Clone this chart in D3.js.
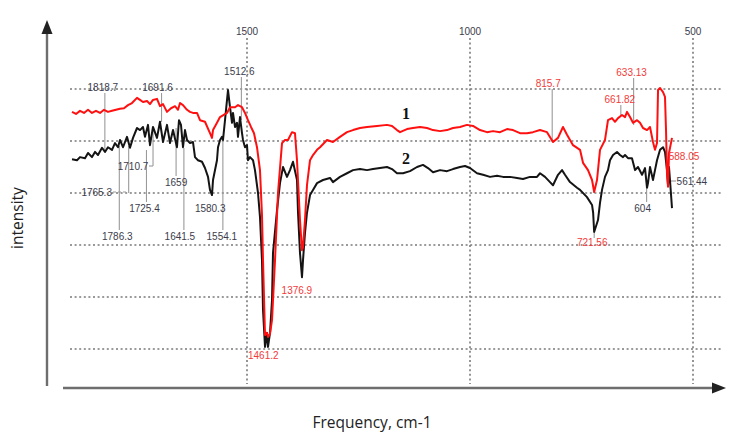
<!DOCTYPE html>
<html><head><meta charset="utf-8">
<script src="https://cdn.jsdelivr.net/npm/d3@7/dist/d3.min.js"></script>
<style>html,body{margin:0;padding:0;background:#fff;}svg{display:block;}</style>
</head><body><svg id="c" width="730" height="432"></svg>
<script>
// ---- data (wavenumber cm-1, intensity a.u.) ----
const series1 = [[1892.4,55.6],[1883.4,55.2],[1874.4,55.8],[1865.5,55.4],[1856.5,56.0],[1847.5,55.4],[1838.6,55.8],[1829.6,55.4],[1820.6,56.0],[1811.7,55.6],[1802.7,55.8],[1793.7,56.0],[1784.8,56.2],[1775.8,56.3],[1766.8,56.9],[1757.9,57.3],[1746.6,58.3],[1739.9,57.9],[1733.2,57.5],[1724.2,57.7],[1717.5,57.1],[1710.8,57.9],[1701.8,58.1],[1695.1,56.7],[1688.3,57.1],[1679.4,55.6],[1670.4,56.3],[1661.4,56.7],[1654.7,56.0],[1650.2,57.3],[1643.5,56.9],[1634.5,56.0],[1627.8,55.6],[1621.1,55.4],[1612.1,55.4],[1605.4,54.0],[1594.2,53.7],[1583.0,51.5],[1578.5,50.6],[1576.2,52.1],[1567.3,53.5],[1560.5,54.6],[1544.8,55.4],[1538.1,56.5],[1526.9,56.5],[1520.2,56.9],[1511.2,56.5],[1504.5,55.4],[1497.8,54.0],[1491.0,52.7],[1484.3,51.5],[1477.6,48.8],[1470.9,44.4],[1466.4,35.8],[1464.1,27.1],[1459.6,12.7],[1455.2,13.1],[1452.9,12.3],[1448.4,12.9],[1443.9,15.6],[1437.2,27.1],[1430.5,40.0],[1421.5,49.6],[1414.8,50.2],[1408.1,50.2],[1399.1,51.7],[1392.4,51.5],[1387.9,46.3],[1381.2,34.8],[1376.7,29.0],[1374.4,29.6],[1370.0,34.8],[1365.5,41.5],[1358.7,46.3],[1352.0,47.3],[1343.0,48.3],[1336.3,48.8],[1320.6,50.2],[1307.2,49.8],[1291.5,50.8],[1275.8,51.7],[1262.3,52.1],[1246.6,52.5],[1230.9,52.7],[1208.5,52.9],[1186.1,53.1],[1174.9,52.9],[1163.7,52.1],[1156.9,51.7],[1141.2,52.3],[1127.8,52.5],[1112.1,52.7],[1096.4,52.5],[1082.9,52.1],[1067.1,51.9],[1051.6,52.1],[1038.1,52.5],[1022.4,52.7],[1006.7,53.1],[993.3,52.9],[977.6,52.1],[961.9,51.7],[948.4,51.9],[932.7,51.7],[917.0,52.3],[903.6,52.1],[887.9,51.5],[872.2,51.5],[858.7,51.7],[843.0,52.1],[827.3,51.7],[813.9,49.8],[802.7,50.6],[791.5,52.7],[782.5,51.2],[769.0,49.2],[753.3,48.3],[746.6,45.8],[735.4,44.4],[726.4,42.5],[721.6,40.2],[715.2,42.5],[708.5,48.3],[697.3,50.2],[690.6,54.0],[681.6,54.4],[674.9,53.7],[668.1,54.4],[659.2,55.0],[652.4,54.6],[647.9,55.6],[641.2,54.6],[634.5,53.5],[625.5,54.0],[618.8,53.5],[612.1,52.5],[603.1,52.1],[596.4,52.7],[589.7,49.8],[585.2,48.3],[580.7,49.6],[578.4,59.8],[573.9,60.2],[567.2,59.4],[562.8,58.5],[560.5,52.1],[558.3,43.8],[556.0,41.2],[553.8,47.7],[547.1,50.6]];

const series2 = [[1892.4,46.5],[1881.2,46.3],[1874.4,46.9],[1863.2,46.7],[1856.5,47.7],[1847.5,46.9],[1840.8,47.9],[1834.1,47.3],[1825.1,48.7],[1818.4,47.9],[1811.7,48.8],[1802.7,48.3],[1796.0,49.6],[1789.2,48.8],[1784.8,50.2],[1778.0,48.8],[1769.1,50.8],[1762.3,48.7],[1755.6,50.6],[1746.6,52.5],[1739.9,52.1],[1733.2,52.7],[1728.7,50.8],[1722.0,53.1],[1717.5,49.2],[1710.8,52.7],[1701.8,50.6],[1695.1,53.7],[1688.3,49.8],[1679.4,53.1],[1672.6,49.6],[1665.9,52.1],[1657.0,48.8],[1652.5,54.0],[1648.0,53.1],[1643.5,48.8],[1639.0,52.1],[1634.5,50.2],[1627.8,49.6],[1621.1,49.8],[1616.6,46.9],[1609.9,46.3],[1600.9,46.0],[1594.2,44.8],[1587.4,43.1],[1583.0,40.6],[1578.5,39.6],[1576.2,42.5],[1567.3,46.3],[1565.0,48.8],[1560.5,50.2],[1556.1,50.8],[1553.8,50.2],[1549.3,54.0],[1544.8,57.9],[1542.6,59.8],[1538.1,56.5],[1533.6,53.5],[1531.4,55.4],[1526.9,52.7],[1522.4,53.5],[1520.2,50.8],[1515.7,54.6],[1511.2,51.5],[1509.0,50.2],[1504.5,48.8],[1500.0,49.2],[1497.8,46.3],[1493.3,46.9],[1486.5,46.3],[1482.1,44.4],[1475.3,40.0],[1470.9,35.4],[1466.4,27.1],[1464.1,17.5],[1459.6,10.4],[1455.2,13.1],[1452.9,10.4],[1448.4,13.1],[1443.9,19.4],[1441.7,28.5],[1432.7,36.7],[1426.0,41.9],[1419.3,45.0],[1410.3,43.1],[1403.6,44.4],[1396.9,46.0],[1387.9,42.5],[1385.6,36.2],[1381.2,28.5],[1376.7,23.8],[1374.4,27.1],[1370.0,32.3],[1365.5,36.2],[1358.7,39.6],[1352.0,40.6],[1343.0,41.9],[1329.6,42.5],[1313.9,42.9],[1307.2,42.1],[1291.5,43.1],[1275.8,43.8],[1262.3,44.4],[1246.6,44.6],[1230.9,44.4],[1217.5,44.6],[1201.8,44.8],[1186.1,45.0],[1174.9,44.6],[1163.7,43.8],[1150.2,43.8],[1134.5,44.2],[1118.8,45.0],[1105.4,45.4],[1094.2,44.8],[1082.9,44.0],[1067.1,44.4],[1051.6,44.2],[1038.1,44.6],[1022.4,45.0],[1011.2,45.2],[1000.0,44.8],[984.3,43.8],[970.8,43.5],[955.1,43.1],[939.5,43.3],[926.0,43.1],[910.3,43.1],[894.6,42.9],[881.2,42.7],[865.5,43.1],[849.8,43.1],[843.0,43.8],[831.8,43.1],[820.6,42.1],[813.9,41.5],[802.7,43.5],[793.7,44.4],[787.0,43.5],[775.8,42.1],[760.1,41.0],[753.3,40.6],[737.7,39.2],[726.4,37.7],[723.9,36.2],[721.6,32.5],[713.0,34.8],[708.5,38.1],[704.0,40.6],[697.3,43.1],[690.6,44.4],[686.1,46.3],[679.3,47.3],[670.4,47.9],[663.7,47.3],[656.9,46.9],[652.4,47.3],[645.7,46.7],[636.8,46.7],[630.0,44.4],[623.3,45.0],[614.3,43.5],[607.6,44.8],[603.1,41.0],[600.9,41.9],[596.4,45.0],[589.7,42.5],[585.2,44.4],[580.7,46.3],[573.9,48.3],[567.2,48.8],[562.8,47.9],[558.3,44.4],[556.0,41.5],[553.8,45.0],[551.6,42.5],[547.1,37.1]];

const xTickValues = [1500, 1000, 500];
const yGridValues = [10, 20, 30, 40, 50, 60];
const seriesNames = ["1", "2"];

// peak annotations: wavenumber, label, which series (1 red, 2 black)
const annFreq   = [1818.7, 1786.3, 1765.3, 1725.4, 1710.7, 1691.6, 1659, 1641.5, 1580.3, 1554.1, 1512.6, 1461.2, 1376.9, 815.7, 721.56, 661.82, 633.13, 604, 588.05, 561.44];
const annText   = ["1818.7","1786.3","1765.3","1725.4","1710.7","1691.6","1659","1641.5","1580.3","1554.1","1512.6","1461.2","1376.9","815.7","721.56","661.82","633.13","604","588.05","561.44"];
const annSeries = [2,2,2,2,2,2,2,2,2,2,2,1,1,1,1,1,1,2,1,2];

// ---- layout (pixels) for annotation labels and leader lines ----
// [label dx from peak, label baseline y, leader y1, leader y2, anchor, pointer]
const annLayout = [
  [-2, 91, 93, 150, "middle", null],
  [-2, 240, 146, 230, "middle", null],
  [-32, 196, 146, 193, "middle", [113, 128]],
  [-2, 212, 150, 202, "middle", null],
  [-20, 170, 128, 166, "middle", [149, 153]],
  [-4, 91, 93, 122, "middle", null],
  [0, 186, 128, 176, "middle", null],
  [-4, 240, 148, 230, "middle", null],
  [-1, 212, null, null, "middle", null],
  [-1, 240, 140, 230, "middle", null],
  [-2, 75, 77, 120, "middle", null],
  [-1, 359, null, null, "middle", null],
  [-5, 294, null, null, "middle", null],
  [-4, 87, 89, 142, "middle", null],
  [-2, 246, 233, 238, "middle", null],
  [-1, 103, 105, 116, "middle", null],
  [-2, 76, 78, 125, "middle", null],
  [-4, 212, 189, 202, "middle", null],
  [15, 160, null, null, "start", null],
  [11, 185, null, null, "start", [667, 676]]
];

const svg = d3.select("#c");
const x = d3.scaleLinear().domain([1500, 500]).range([247, 693]);
const y = d3.scaleLinear().domain([0, 60]).range([401, 89]);

// grid
const gridColor = "#7a7a7a";
svg.append("g").selectAll("line").data(yGridValues).join("line")
  .attr("x1", 70).attr("x2", 722)
  .attr("y1", d => y(d)).attr("y2", d => y(d))
  .attr("stroke", gridColor).attr("stroke-width", 1.6).attr("stroke-dasharray", "2,2.6");
svg.append("g").selectAll("line").data(xTickValues).join("line")
  .attr("x1", d => x(d)).attr("x2", d => x(d))
  .attr("y1", 38).attr("y2", 384)
  .attr("stroke", gridColor).attr("stroke-width", 1.6).attr("stroke-dasharray", "2,2.6");
svg.append("g").selectAll("text").data(xTickValues).join("text")
  .attr("x", d => x(d)).attr("y", 35).attr("text-anchor", "middle")
  .attr("font-family", "Liberation Sans, Arial, sans-serif").attr("font-size", 10)
  .attr("fill", "#3c3c4c").text(d => d);

// axes with arrows
const axisColor = "#6e6e6e";
svg.append("line").attr("x1", 47).attr("x2", 47).attr("y1", 386).attr("y2", 32)
  .attr("stroke", axisColor).attr("stroke-width", 2.4);
svg.append("path").attr("d", "M47,20 L41.5,34 L52.5,34 Z").attr("fill", "#222");
svg.append("line").attr("x1", 63).attr("x2", 714).attr("y1", 388).attr("y2", 388)
  .attr("stroke", axisColor).attr("stroke-width", 2.4);
svg.append("path").attr("d", "M726,388 L712,382.5 L712,393.5 Z").attr("fill", "#222");

svg.append("text").attr("x", 372).attr("y", 428).attr("text-anchor", "middle")
  .attr("font-family", "Open Sans, Liberation Sans, sans-serif").attr("font-size", 15.5)
  .attr("fill", "#222").text("Frequency, cm-1");
svg.append("text").attr("transform", "translate(23,218) rotate(-90)").attr("text-anchor", "middle")
  .attr("font-family", "Open Sans, Liberation Sans, sans-serif").attr("font-size", 15.5)
  .attr("fill", "#222").text("intensity");

// leader lines (under curves)
const leaders = svg.append("g");
annFreq.forEach((f, i) => {
  const L = annLayout[i];
  if (L[2] !== null) {
    leaders.append("line").attr("x1", x(f)).attr("x2", x(f)).attr("y1", L[2]).attr("y2", L[3])
      .attr("stroke", "#9a9a9a").attr("stroke-width", 1.1);
  }
  if (L[5]) {
    leaders.append("line").attr("x1", L[5][0]).attr("x2", L[5][1]).attr("y1", L[1] - 4).attr("y2", L[1] - 4)
      .attr("stroke", "#9a9a9a").attr("stroke-width", 1.1).attr("stroke-dasharray", i === 2 ? "3,2" : null);
  }
});

// curves
const line = d3.line().x(d => x(d[0])).y(d => y(d[1]));
svg.append("path").datum(series2).attr("d", line).attr("fill", "none")
  .attr("stroke", "#141414").attr("stroke-width", 2).attr("stroke-linejoin", "round");
svg.append("path").datum(series1).attr("d", line).attr("fill", "none")
  .attr("stroke", "#ff1010").attr("stroke-width", 2).attr("stroke-linejoin", "round");

// annotation texts
annFreq.forEach((f, i) => {
  const L = annLayout[i];
  svg.append("text").attr("x", x(f) + L[0]).attr("y", L[1]).attr("text-anchor", L[4])
    .attr("font-family", "Liberation Sans, Arial, sans-serif").attr("font-size", 10)
    .attr("fill", annSeries[i] === 1 ? "#f23a3a" : "#3c3c4c").text(annText[i]);
});

// series labels
const seriesLabelPos = [[406, 119], [406, 164]];
svg.append("g").selectAll("text").data(seriesNames).join("text")
  .attr("x", (d, i) => seriesLabelPos[i][0]).attr("y", (d, i) => seriesLabelPos[i][1])
  .attr("text-anchor", "middle").attr("font-family", "Liberation Serif, Times New Roman, serif")
  .attr("font-weight", "bold").attr("font-size", 16).attr("fill", "#111").text(d => d);
</script></body></html>
